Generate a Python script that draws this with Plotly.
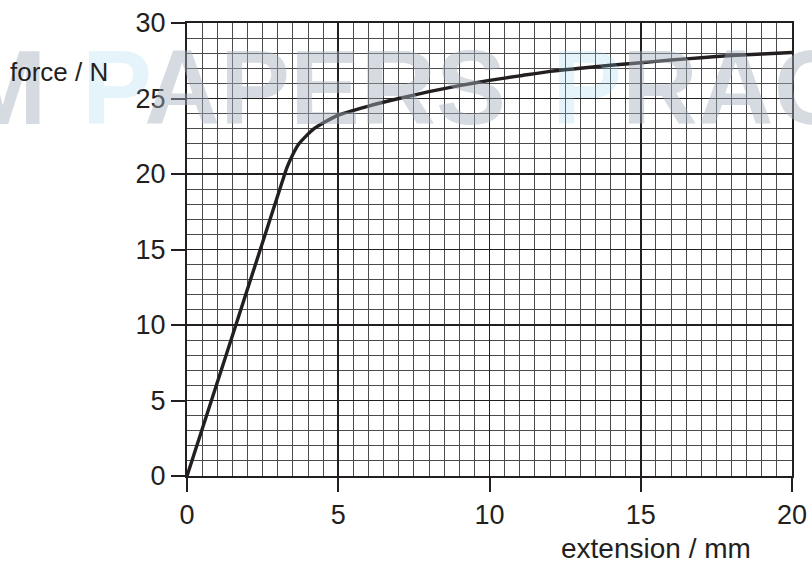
import plotly.graph_objects as go

# Data
extension_mm = [0, 3.15, 3.3, 3.45, 3.7, 4.2, 5.0, 6.0, 7.0, 8.0, 9.0, 10.0, 11.0, 12.0, 13.0,
                14.0, 15.0, 16.0, 17.0, 18.0, 19.0, 20.0]
force_N = [0, 19.5, 20.4, 21.1, 22.0, 23.0, 23.9, 24.5, 25.0, 25.45, 25.85, 26.2, 26.5, 26.8, 27.0,
           27.2, 27.37, 27.55, 27.7, 27.85, 27.95, 28.05]
x_tick_step = 5
y_tick_step = 5

W, H = 812, 565
L, R, T, B = 187, 20, 23, 89
PW, PH = W - L - R, H - T - B

def px(xp):
    return (xp - L) / PW

def py(yp):
    return (H - B - yp) / PH

FONT = "Liberation Sans, Arial, sans-serif"
INK = "#231f20"

fig = go.Figure()
fig.add_trace(go.Scatter(x=extension_mm, y=force_N, mode="lines",
                         line=dict(color=INK, width=3.4, shape="spline", smoothing=0.6),
                         hoverinfo="skip", showlegend=False))

axis_common = dict(
    showline=True, linecolor=INK, linewidth=2, mirror=True,
    ticks="outside", ticklen=14, tickwidth=2, tickcolor=INK,
    showgrid=True, gridcolor=INK, gridwidth=1.6,
    zeroline=False, automargin=False,
    tickmode="linear", tick0=0,
    tickfont=dict(family=FONT, size=27, color=INK),
)

fig.update_xaxes(range=[0, 20], dtick=x_tick_step,
                 minor=dict(dtick=0.5, tick0=0, showgrid=True, gridcolor="#4a4a4a", gridwidth=1, ticks=""),
                 **axis_common)
fig.update_yaxes(range=[0, 30], dtick=y_tick_step,
                 minor=dict(dtick=1, tick0=0, showgrid=True, gridcolor="#4a4a4a", gridwidth=1, ticks=""),
                 **axis_common)

grey = "rgba(165,175,188,0.45)"
blue = "rgba(140,205,232,0.5)"
wm_font = dict(family=FONT, size=105, color=grey)

annotations = [
    dict(text="<b>EXAM</b>", x=px(48), y=py(88), xref="paper", yref="paper",
         xanchor="right", yanchor="middle", showarrow=False, font=wm_font),
    dict(text=f'<b><span style="color:{blue}">P</span>APERS</b>',
         x=px(80), y=py(88), xref="paper", yref="paper",
         xanchor="left", yanchor="middle", showarrow=False, font=wm_font),
    dict(text=f'<b><span style="color:{blue}">P</span>RACTICE</b>',
         x=px(550), y=py(88), xref="paper", yref="paper",
         xanchor="left", yanchor="middle", showarrow=False, font=wm_font),
    dict(text="force / N", x=px(8), y=py(72), xref="paper", yref="paper",
         xanchor="left", yanchor="middle", showarrow=False,
         font=dict(family=FONT, size=26, color=INK)),
    dict(text="extension / mm", x=px(753), y=py(548), xref="paper", yref="paper",
         xanchor="right", yanchor="middle", showarrow=False,
         font=dict(family=FONT, size=28, color=INK)),
]

fig.update_layout(
    width=W, height=H,
    margin=dict(l=L, r=R, t=T, b=B, pad=0, autoexpand=False),
    paper_bgcolor="white", plot_bgcolor="white",
    annotations=annotations,
    showlegend=False,
)

fig.write_html("out.html", config={"displayModeBar": False, "staticPlot": True},
               post_script="document.body.style.margin='0';document.body.style.overflow='hidden';")
